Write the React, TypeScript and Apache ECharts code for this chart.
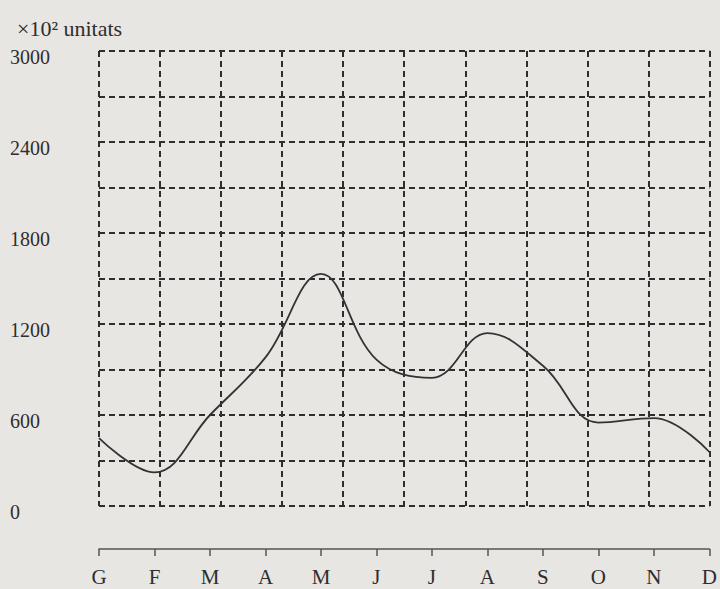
import React, { useEffect, useRef } from "react";
import * as echarts from "echarts";

const months = ["G", "F", "M", "A", "M", "J", "J", "A", "S", "O", "N", "D"];
const units = [448, 222, 600, 980, 1530, 965, 845, 1140, 925, 550, 580, 356];
const yTicks = [0, 600, 1200, 1800, 2400, 3000];
const unitLabel = "×10² unitats";

const SERIF = "'Liberation Serif', 'DejaVu Serif', serif";
const INK = "#2e2e2e";
const BG = "#e8e6e2";

export default function App() {
  const ref = useRef<HTMLDivElement>(null);
  useEffect(() => {
    if (!ref.current) return;
    const chart = echarts.init(ref.current, undefined, { renderer: "svg" });
    const dash = { color: INK, width: 2, type: [6, 4] as any };
    chart.setOption({
      animation: false,
      backgroundColor: BG,
      title: {
        text: unitLabel,
        left: 12,
        top: 12,
        textStyle: { fontFamily: SERIF, fontSize: 22, fontWeight: "normal", color: INK },
      },
      grid: { left: 99, right: 7, top: 51, bottom: 83, containLabel: false },
      xAxis: [
        {
          type: "category",
          data: months,
          boundaryGap: false,
          position: "bottom",
          offset: 43,
          axisLine: { show: true, onZero: false, lineStyle: { color: "#555", width: 1.5 } },
          axisTick: { show: true, length: 7, lineStyle: { color: "#555", width: 1.5 } },
          axisLabel: { fontFamily: SERIF, fontSize: 21, color: INK, margin: 17 },
          splitLine: { show: false },
        },
        {
          type: "value",
          min: 0,
          max: 10,
          interval: 1,
          position: "top",
          axisLine: { show: false },
          axisTick: { show: false },
          axisLabel: { show: false },
          splitLine: { show: true, lineStyle: dash },
        },
      ],
      yAxis: {
        type: "value",
        min: 0,
        max: 3000,
        interval: 300,
        axisLine: { show: false },
        axisTick: { show: false },
        axisLabel: {
          fontFamily: SERIF,
          fontSize: 20,
          color: INK,
          align: "left",
          verticalAlign: "top",
          lineHeight: 12,
          margin: 89,
          formatter: (v: number) => (yTicks.includes(v) ? String(v) : ""),
        },
        splitLine: { show: true, lineStyle: dash },
      },
      series: [
        {
          type: "line",
          xAxisIndex: 0,
          data: units,
          smooth: 0.4,
          symbol: "none",
          lineStyle: { color: "#333", width: 1.8 },
        },
      ],
    });
    return () => chart.dispose();
  }, []);
  return (
    <div
      ref={ref}
      style={{ position: "fixed", left: 0, top: 0, width: 720, height: 589, background: BG }}
    />
  );
}
